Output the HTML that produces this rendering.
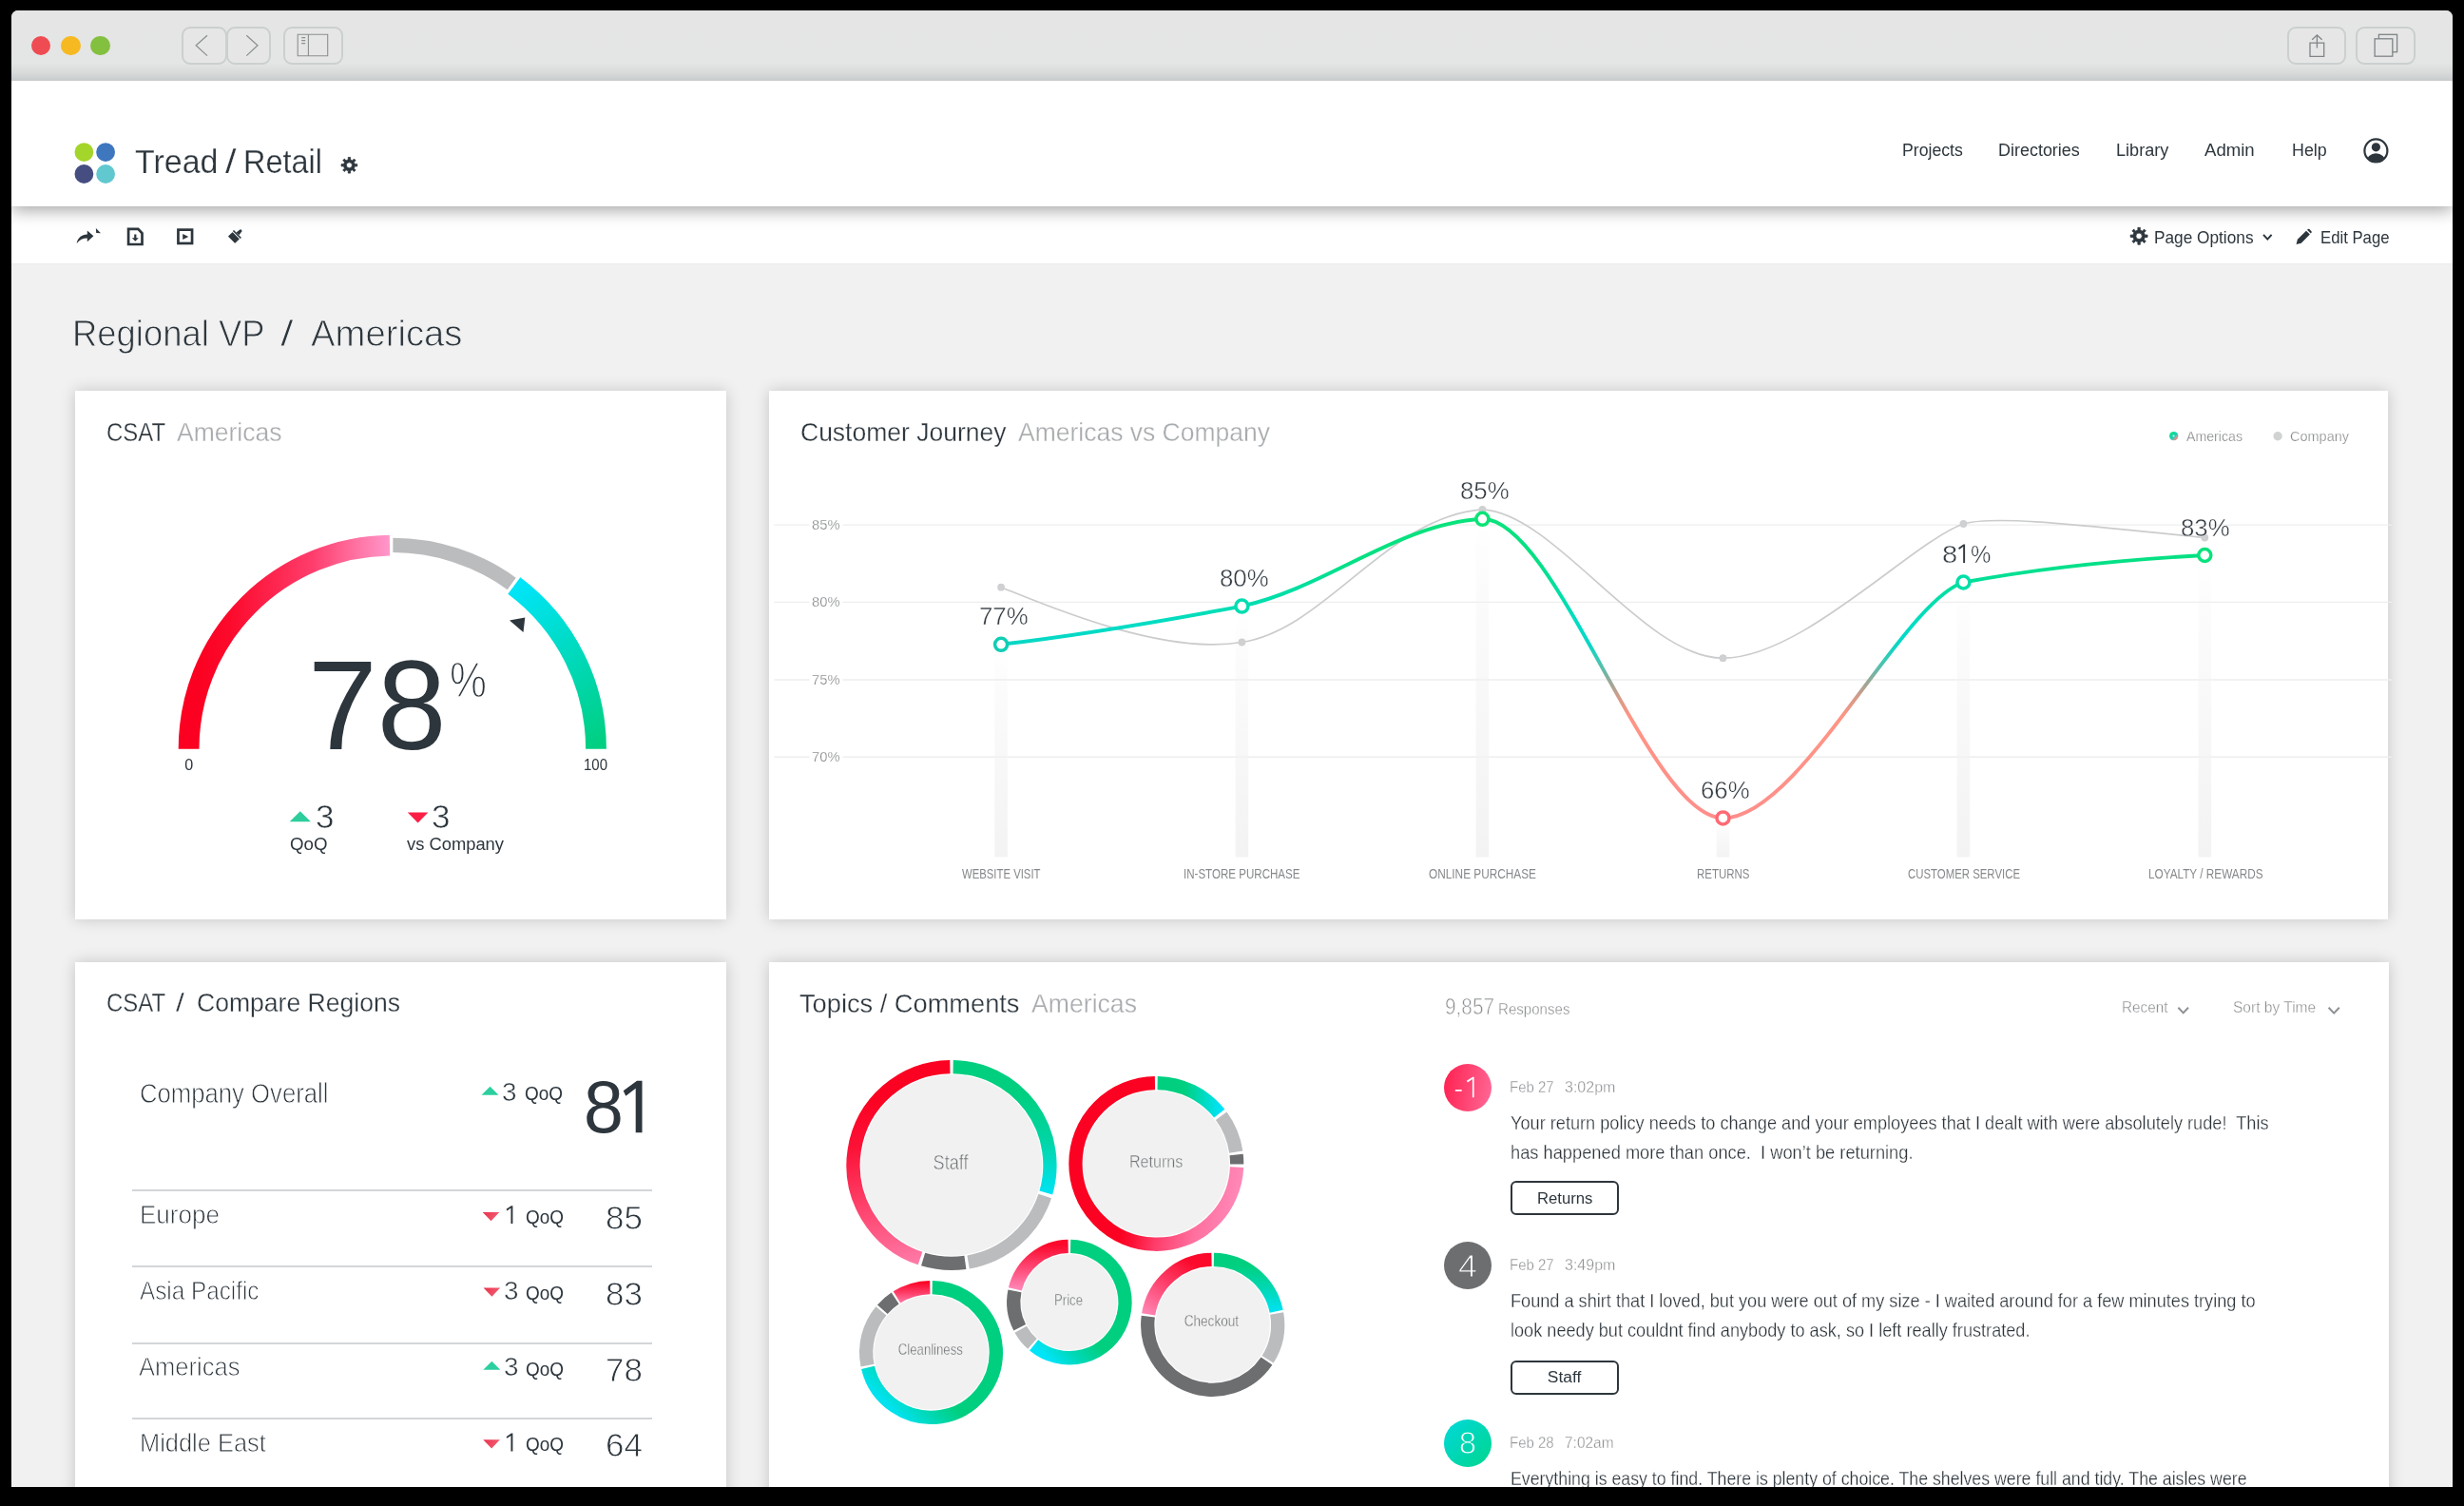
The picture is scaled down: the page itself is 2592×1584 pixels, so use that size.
<!DOCTYPE html>
<html lang="en"><head><meta charset="utf-8">
<title>Tread / Retail - Regional VP / Americas</title>
<style>
*{box-sizing:border-box;margin:0;padding:0}
html,body{width:2592px;height:1584px;overflow:hidden;background:#000}
body{position:relative;font-family:"Liberation Sans",sans-serif;color:#2d363d}
.win{position:absolute;left:12px;top:11px;width:2568px;height:1553px;background:#f1f1f1;border-radius:7px 7px 0 0;overflow:hidden}
.titlebar{position:absolute;left:0;top:0;width:100%;height:74px;z-index:4;background:linear-gradient(#e5e5e5 0,#e4e5e5 74%,#d9dbdb 88%,#c8cbcc 100%)}
.tl{position:absolute;top:26.5px;width:20.5px;height:20.5px;border-radius:50%}
.mbtn{position:absolute;top:17px;height:40px;border:2px solid #cbcfcf;border-radius:9px;background:#e6e6e6}
.header{position:absolute;left:0;top:74px;width:100%;height:131.5px;background:#fff;box-shadow:0 4px 17px rgba(0,0,0,.36);z-index:3}
.toolbar{position:absolute;left:0;top:206px;width:100%;height:61px;background:#fff;z-index:2;border-bottom:1px solid #ececec}
.card{position:absolute;background:#fff;box-shadow:0 0 15px rgba(0,0,0,.185)}
.t{position:absolute;white-space:pre;line-height:1;display:block}
#texts{will-change:transform;position:absolute;left:0;top:0;width:2592px;height:1564px;overflow:hidden;z-index:10}
svg.ov{position:absolute;left:0;top:0;z-index:9}
.hr{position:absolute;height:2px;background:#d3d6d8;left:139px;width:547px}
.tag{position:absolute;border:2px solid #2d363d;border-radius:6px;background:#fff}
.badge{position:absolute;border-radius:50%;width:50px;height:50px}

</style></head><body>
<div class="win">
<div class="titlebar">
<div class="tl" style="left:20.95px;background:#ee4c52"></div>
<div class="tl" style="left:52.05px;background:#f6b921"></div>
<div class="tl" style="left:83.25px;background:#84c040"></div>
<div class="mbtn" style="left:178.9px;width:47.7px"></div>
<div class="mbtn" style="left:225.8px;width:47.7px"></div>
<div class="mbtn" style="left:285.5px;width:63.1px"></div>
<div class="mbtn" style="left:2393.8px;width:62.7px"></div>
<div class="mbtn" style="left:2466.2px;width:62.7px"></div>
</div>
<div class="header"></div>
<div class="toolbar"></div>
<div class="card" style="left:67px;top:400px;width:685px;height:556px"></div>
<div class="card" style="left:797px;top:400px;width:1703px;height:556px"></div>
<div class="card" style="left:67px;top:1001px;width:685px;height:588px"></div>
<div class="card" style="left:797px;top:1001px;width:1703.5px;height:588px"></div>
<div class="hr" style="left:127px;top:1240.2px"></div>
<div class="hr" style="left:127px;top:1320.2px"></div>
<div class="hr" style="left:127px;top:1401.0px"></div>
<div class="hr" style="left:127px;top:1480.3px"></div>
<div class="tag" style="left:1576.6px;top:1230.9px;width:114.2px;height:36.2px"></div>
<div class="tag" style="left:1576.6px;top:1419.8px;width:114.2px;height:36.2px"></div>
<div class="badge" style="left:1506.7px;top:1107.9px;background:linear-gradient(100deg,#ff1f4e,#ff6a98)"></div>
<div class="badge" style="left:1506.7px;top:1295.1px;background:#6d6e70"></div>
<div class="badge" style="left:1506.7px;top:1481.9px;background:linear-gradient(135deg,#00d8dc,#00d68c)"></div>
</div>
<svg class="ov" width="2592" height="1584" viewBox="0 0 2592 1584"><defs><linearGradient id="g1" gradientUnits="userSpaceOnUse" x1="205.0" y1="0.0" x2="411.0" y2="0.0"><stop offset="0" stop-color="#fb0020"/><stop offset="0.18" stop-color="#fc0a2c"/><stop offset="0.6" stop-color="#ff3d6c"/><stop offset="0.85" stop-color="#ff78a8"/><stop offset="1" stop-color="#ff98cc"/></linearGradient><linearGradient id="g2" gradientUnits="userSpaceOnUse" x1="537.0" y1="616.0" x2="640.0" y2="775.0"><stop offset="0" stop-color="#00e5fb"/><stop offset="0.45" stop-color="#00dbc4"/><stop offset="1" stop-color="#00cf82"/></linearGradient><linearGradient id="g3" gradientUnits="userSpaceOnUse" x1="0.0" y1="1150.5" x2="0.0" y2="1257.5"><stop offset="0" stop-color="#00cf80"/><stop offset="0.45" stop-color="#00d5a4"/><stop offset="1" stop-color="#00e3f6"/></linearGradient><linearGradient id="g4" gradientUnits="userSpaceOnUse" x1="961.0" y1="1333.5" x2="921.0" y2="1155.5"><stop offset="0" stop-color="#ff7dab"/><stop offset="0.35" stop-color="#fe4a74"/><stop offset="0.75" stop-color="#fc1237"/><stop offset="1" stop-color="#fb0222"/></linearGradient><linearGradient id="g5" gradientUnits="userSpaceOnUse" x1="1246.3" y1="0.0" x2="1286.3" y2="0.0"><stop offset="0" stop-color="#00cf80"/><stop offset="0.5" stop-color="#00dbc0"/><stop offset="1" stop-color="#00e4ff"/></linearGradient><linearGradient id="g6" gradientUnits="userSpaceOnUse" x1="1304.3" y1="1263.9" x2="1158.3" y2="1233.9"><stop offset="0" stop-color="#ff8aba"/><stop offset="0.27" stop-color="#ff709e"/><stop offset="0.52" stop-color="#fe3e6c"/><stop offset="0.68" stop-color="#fc1236"/><stop offset="0.78" stop-color="#fb0222"/></linearGradient><linearGradient id="g7" gradientUnits="userSpaceOnUse" x1="1116.9" y1="1377.6" x2="1083.9" y2="1410.6"><stop offset="0" stop-color="#00cf80"/><stop offset="0.5" stop-color="#00d8b4"/><stop offset="1" stop-color="#00e4f8"/></linearGradient><linearGradient id="g8" gradientUnits="userSpaceOnUse" x1="0.0" y1="1355.6" x2="0.0" y2="1309.6"><stop offset="0" stop-color="#ff86b6"/><stop offset="0.5" stop-color="#fe4672"/><stop offset="1" stop-color="#fb0a2c"/></linearGradient><linearGradient id="g9" gradientUnits="userSpaceOnUse" x1="962.5" y1="1439.5" x2="929.5" y2="1472.5"><stop offset="0" stop-color="#00cf80"/><stop offset="0.5" stop-color="#00d8b4"/><stop offset="1" stop-color="#00e2ee"/></linearGradient><linearGradient id="g10" gradientUnits="userSpaceOnUse" x1="0.0" y1="1368.5" x2="0.0" y2="1348.5"><stop offset="0" stop-color="#ff6e9c"/><stop offset="0.6" stop-color="#fd2c54"/><stop offset="1" stop-color="#fb0424"/></linearGradient><linearGradient id="g11" gradientUnits="userSpaceOnUse" x1="0.0" y1="1331.3" x2="0.0" y2="1379.3"><stop offset="0" stop-color="#00cf80"/><stop offset="0.5" stop-color="#00d8b4"/><stop offset="1" stop-color="#00e2f2"/></linearGradient><linearGradient id="g12" gradientUnits="userSpaceOnUse" x1="1205.7" y1="1385.3" x2="1245.7" y2="1323.3"><stop offset="0" stop-color="#ff8ab8"/><stop offset="0.5" stop-color="#fe4672"/><stop offset="1" stop-color="#fb0a2c"/></linearGradient><linearGradient id="g13" gradientUnits="userSpaceOnUse" x1="0" y1="683.8" x2="0" y2="901.5"><stop offset="0" stop-color="#ededed" stop-opacity="0"/><stop offset="0.35" stop-color="#f3f3f3" stop-opacity="0.45"/><stop offset="1" stop-color="#f3f3f3" stop-opacity="1"/></linearGradient><linearGradient id="g14" gradientUnits="userSpaceOnUse" x1="0" y1="643.6" x2="0" y2="901.5"><stop offset="0" stop-color="#ededed" stop-opacity="0"/><stop offset="0.35" stop-color="#f3f3f3" stop-opacity="0.45"/><stop offset="1" stop-color="#f3f3f3" stop-opacity="1"/></linearGradient><linearGradient id="g15" gradientUnits="userSpaceOnUse" x1="0" y1="551.8" x2="0" y2="901.5"><stop offset="0" stop-color="#ededed" stop-opacity="0"/><stop offset="0.35" stop-color="#f3f3f3" stop-opacity="0.45"/><stop offset="1" stop-color="#f3f3f3" stop-opacity="1"/></linearGradient><linearGradient id="g16" gradientUnits="userSpaceOnUse" x1="0" y1="866.4" x2="0" y2="901.5"><stop offset="0" stop-color="#ededed" stop-opacity="0"/><stop offset="0.35" stop-color="#f3f3f3" stop-opacity="0.45"/><stop offset="1" stop-color="#f3f3f3" stop-opacity="1"/></linearGradient><linearGradient id="g17" gradientUnits="userSpaceOnUse" x1="0" y1="618.5" x2="0" y2="901.5"><stop offset="0" stop-color="#ededed" stop-opacity="0"/><stop offset="0.35" stop-color="#f3f3f3" stop-opacity="0.45"/><stop offset="1" stop-color="#f3f3f3" stop-opacity="1"/></linearGradient><linearGradient id="g18" gradientUnits="userSpaceOnUse" x1="0" y1="590.0" x2="0" y2="901.5"><stop offset="0" stop-color="#ededed" stop-opacity="0"/><stop offset="0.35" stop-color="#f3f3f3" stop-opacity="0.45"/><stop offset="1" stop-color="#f3f3f3" stop-opacity="1"/></linearGradient><linearGradient id="g19" gradientUnits="userSpaceOnUse" x1="0.0" y1="540.0" x2="0.0" y2="870.0"><stop offset="0" stop-color="#0be37a"/><stop offset="0.15" stop-color="#05e084"/><stop offset="0.27" stop-color="#00deaa"/><stop offset="0.36" stop-color="#00dcc6"/><stop offset="0.42" stop-color="#0ad6c4"/><stop offset="0.47" stop-color="#3cc8b4"/><stop offset="0.535" stop-color="#98a898"/><stop offset="0.59" stop-color="#d89a88"/><stop offset="0.65" stop-color="#ff9585"/><stop offset="1" stop-color="#ff8d8b"/></linearGradient><linearGradient id="g20" gradientUnits="userSpaceOnUse" x1="2283.4" y1="455.3" x2="2290.0" y2="461.9"><stop offset="0" stop-color="#08e283"/><stop offset="0.55" stop-color="#16cfb6"/><stop offset="0.8" stop-color="#b0a59a"/><stop offset="1" stop-color="#ff7d80"/></linearGradient><linearGradient id="g21" gradientUnits="userSpaceOnUse" x1="507.7" y1="1275.0" x2="525.3" y2="1284.2"><stop offset="0" stop-color="#e92f4b"/><stop offset="1" stop-color="#f4667a"/></linearGradient><linearGradient id="g22" gradientUnits="userSpaceOnUse" x1="508.6" y1="1354.6" x2="526.2" y2="1363.8"><stop offset="0" stop-color="#e92f4b"/><stop offset="1" stop-color="#f4667a"/></linearGradient><linearGradient id="g23" gradientUnits="userSpaceOnUse" x1="508.3" y1="1514.2" x2="525.9" y2="1523.4"><stop offset="0" stop-color="#e92f4b"/><stop offset="1" stop-color="#f4667a"/></linearGradient></defs><path d="M198.60,787.80A214.20,214.20 0 0 1 410.00,573.62" fill="none" stroke="url(#g1)" stroke-width="21.8"/>
<path d="M413.36,573.40A214.40,214.40 0 0 1 538.21,613.91" fill="none" stroke="#bbbcbe" stroke-width="15.4"/>
<path d="M540.81,616.06A214.20,214.20 0 0 1 627.00,787.80" fill="none" stroke="url(#g2)" stroke-width="21.8"/>
<polygon points="536,652.6 552.3,649.6 550.5,665" fill="#2d363d"/>
<polygon points="304.7,864.2 315.8,853.3 326.9,864.2" fill="#2ecd9c"/>
<polygon points="428.8,854.4 450.4,854.4 439.6,865.6" fill="#fb1f45"/>
<circle cx="1001.0" cy="1225.5" r="95.20" fill="#f1f1f1"/>
<path d="M1002.62,1122.06A103.45,103.45 0 0 1 1100.29,1254.53" fill="none" stroke="url(#g3)" stroke-width="14.3"/>
<path d="M1099.22,1257.98A103.45,103.45 0 0 1 1018.61,1327.44" fill="none" stroke="#bbbcbe" stroke-width="14.3"/>
<path d="M1015.40,1327.94A103.45,103.45 0 0 1 971.10,1324.53" fill="none" stroke="#6d6e70" stroke-width="14.3"/>
<path d="M968.00,1323.55A103.45,103.45 0 0 1 999.38,1122.06" fill="none" stroke="url(#g4)" stroke-width="14.3"/>
<circle cx="1216.3" cy="1223.9" r="76.60" fill="#f1f1f1"/>
<path d="M1217.63,1139.06A84.85,84.85 0 0 1 1282.70,1171.08" fill="none" stroke="url(#g5)" stroke-width="14.3"/>
<path d="M1284.68,1173.67A84.85,84.85 0 0 1 1300.26,1211.65" fill="none" stroke="#bbbcbe" stroke-width="14.3"/>
<path d="M1300.62,1214.44A84.85,84.85 0 0 1 1301.15,1224.49" fill="none" stroke="#6d6e70" stroke-width="14.3"/>
<path d="M1301.07,1227.60A84.85,84.85 0 1 1 1214.97,1139.06" fill="none" stroke="url(#g6)" stroke-width="14.3"/>
<circle cx="1124.9" cy="1369.6" r="50.40" fill="#f1f1f1"/>
<path d="M1126.13,1310.96A58.65,58.65 0 1 1 1087.59,1414.86" fill="none" stroke="url(#g7)" stroke-width="14.3"/>
<path d="M1085.96,1413.46A58.65,58.65 0 0 1 1073.70,1398.21" fill="none" stroke="#bbbcbe" stroke-width="14.3"/>
<path d="M1072.69,1396.32A58.65,58.65 0 0 1 1067.43,1357.91" fill="none" stroke="#6d6e70" stroke-width="14.3"/>
<path d="M1067.89,1355.81A58.65,58.65 0 0 1 1123.67,1310.96" fill="none" stroke="url(#g8)" stroke-width="14.3"/>
<circle cx="979.5" cy="1422.5" r="60.10" fill="#f1f1f1"/>
<path d="M980.69,1354.16A68.35,68.35 0 1 1 913.01,1438.34" fill="none" stroke="url(#g9)" stroke-width="14.3"/>
<path d="M912.52,1436.13A68.35,68.35 0 0 1 926.91,1378.84" fill="none" stroke="#bbbcbe" stroke-width="14.3"/>
<path d="M928.31,1377.21A68.35,68.35 0 0 1 941.68,1365.57" fill="none" stroke="#6d6e70" stroke-width="14.3"/>
<path d="M943.48,1364.41A68.35,68.35 0 0 1 978.31,1354.16" fill="none" stroke="url(#g10)" stroke-width="14.3"/>
<circle cx="1275.7" cy="1393.3" r="60.20" fill="#f1f1f1"/>
<path d="M1276.89,1324.86A68.45,68.45 0 0 1 1342.68,1379.19" fill="none" stroke="url(#g11)" stroke-width="14.3"/>
<path d="M1343.11,1381.41A68.45,68.45 0 0 1 1333.62,1429.78" fill="none" stroke="#bbbcbe" stroke-width="14.3"/>
<path d="M1332.45,1431.58A68.45,68.45 0 0 1 1207.80,1384.60" fill="none" stroke="#6d6e70" stroke-width="14.3"/>
<path d="M1208.13,1382.36A68.45,68.45 0 0 1 1274.51,1324.86" fill="none" stroke="url(#g12)" stroke-width="14.3"/>
<path d="M814.5,552.1H851.5M886.5,552.1H2516" stroke="#eeeeee" stroke-width="1.4" fill="none"/>
<path d="M814.5,633.4H851.5M886.5,633.4H2516" stroke="#eeeeee" stroke-width="1.4" fill="none"/>
<path d="M814.5,715.0H851.5M886.5,715.0H2516" stroke="#eeeeee" stroke-width="1.4" fill="none"/>
<path d="M814.5,796.3H851.5M886.5,796.3H2516" stroke="#eeeeee" stroke-width="1.4" fill="none"/>
<rect x="1046.3" y="683.8" width="13.6" height="217.7" fill="url(#g13)"/>
<rect x="1299.6" y="643.6" width="13.6" height="257.9" fill="url(#g14)"/>
<rect x="1552.6" y="551.8" width="13.6" height="349.7" fill="url(#g15)"/>
<rect x="1805.7" y="866.4" width="13.6" height="35.1" fill="url(#g16)"/>
<rect x="2058.6" y="618.5" width="13.6" height="283.0" fill="url(#g17)"/>
<rect x="2312.5" y="590.0" width="13.6" height="311.5" fill="url(#g18)"/>
<path d="M1053.1,617.7C1093.1,633.5 1221.5,690.2 1306.4,675.5C1394.2,662.5 1459.7,542.9 1559.4,535.9C1637.1,540.1 1728.7,692.2 1812.5,692.2C1895.7,692.2 2010.8,570.5 2065.4,551.0C2102.5,540.5 2216.2,555.7 2319.3,565.5" fill="none" stroke="#cbcccd" stroke-width="1.7"/>
<circle cx="1053.1" cy="617.7" r="3.9" fill="#cfd0d2"/>
<circle cx="1306.4" cy="675.5" r="3.9" fill="#cfd0d2"/>
<circle cx="1559.4" cy="535.9" r="3.9" fill="#cfd0d2"/>
<circle cx="1812.5" cy="692.2" r="3.9" fill="#cfd0d2"/>
<circle cx="2065.4" cy="551.0" r="3.9" fill="#cfd0d2"/>
<circle cx="2319.3" cy="565.5" r="3.9" fill="#cfd0d2"/>
<path d="M1053.1,677.8C1129.1,669.0 1222.8,653.3 1306.4,637.6C1395.5,618.1 1470.3,550.8 1559.4,545.8C1637.9,545.8 1734.0,860.4 1812.5,860.4C1893.4,860.4 1999.6,634.0 2065.4,612.5C2143.6,598.0 2236.8,588.4 2319.3,584.0" fill="none" stroke="url(#g19)" stroke-width="3.9" stroke-linecap="round"/>
<circle cx="1053.1" cy="677.8" r="6.5" fill="#fff" stroke="#0fceb4" stroke-width="3.5"/>
<circle cx="1306.4" cy="637.6" r="6.5" fill="#fff" stroke="#02ddb0" stroke-width="3.5"/>
<circle cx="1559.4" cy="545.8" r="6.5" fill="#fff" stroke="#0be377" stroke-width="3.5"/>
<circle cx="1812.5" cy="860.4" r="6.5" fill="#fff" stroke="#fe6a74" stroke-width="3.5"/>
<circle cx="2065.4" cy="612.5" r="6.5" fill="#fff" stroke="#02dea8" stroke-width="3.5"/>
<circle cx="2319.3" cy="584.0" r="6.5" fill="#fff" stroke="#08e27c" stroke-width="3.5"/>
<circle cx="2286.7" cy="458.6" r="4.7" fill="url(#g20)"/>
<circle cx="2286.5" cy="458.5" r="1.1" fill="#d5f1ee"/>
<circle cx="2396.1" cy="458.8" r="4.7" fill="#d1d2d4"/>
<polygon points="506.5,1151.7 515.5,1142.7 524.5,1151.7" fill="#2ccf9f"/>
<polygon points="507.7,1275.0 525.3,1275.0 516.5,1284.2" fill="url(#g21)"/>
<polygon points="508.6,1354.6 526.2,1354.6 517.4,1363.8" fill="url(#g22)"/>
<polygon points="508.3,1440.8 517.3,1431.8 526.3,1440.8" fill="#2ccf9f"/>
<polygon points="508.3,1514.2 525.9,1514.2 517.1,1523.4" fill="url(#g23)"/>
<circle cx="88.4" cy="160.1" r="9.9" fill="#a4d52a"/>
<circle cx="111.1" cy="160.1" r="9.9" fill="#3f77bf"/>
<circle cx="88.4" cy="183.0" r="9.9" fill="#464d80"/>
<circle cx="111.1" cy="183.0" r="9.9" fill="#61c8d0"/>
<path d="M365.26,168.32L366.37,168.01L366.22,165.48L368.58,165.48L368.43,168.01L369.76,168.41L370.76,168.98L372.44,167.08L374.12,168.76L372.22,170.44L372.88,171.66L373.19,172.77L375.72,172.62L375.72,174.98L373.19,174.83L372.79,176.16L372.22,177.16L374.12,178.84L372.44,180.52L370.76,178.62L369.54,179.28L368.43,179.59L368.58,182.12L366.22,182.12L366.37,179.59L365.04,179.19L364.04,178.62L362.36,180.52L360.68,178.84L362.58,177.16L361.92,175.94L361.61,174.83L359.08,174.98L359.08,172.62L361.61,172.77L362.01,171.44L362.58,170.44L360.68,168.76L362.36,167.08L364.04,168.98ZM364.38,173.80a3.02,3.02 0 1 0 6.05,0a3.02,3.02 0 1 0 -6.05,0Z" fill="#2d363d" fill-rule="evenodd" stroke="#2d363d" stroke-width="0.8" stroke-linejoin="round"/>
<path d="M2247.80,242.43L2248.99,242.10L2248.83,239.39L2251.37,239.39L2251.21,242.10L2252.62,242.53L2253.70,243.13L2255.50,241.10L2257.30,242.90L2255.27,244.70L2255.97,246.00L2256.30,247.19L2259.01,247.03L2259.01,249.57L2256.30,249.41L2255.87,250.82L2255.27,251.90L2257.30,253.70L2255.50,255.50L2253.70,253.47L2252.40,254.17L2251.21,254.50L2251.37,257.21L2248.83,257.21L2248.99,254.50L2247.58,254.07L2246.50,253.47L2244.70,255.50L2242.90,253.70L2244.93,251.90L2244.23,250.60L2243.90,249.41L2241.19,249.57L2241.19,247.03L2243.90,247.19L2244.33,245.78L2244.93,244.70L2242.90,242.90L2244.70,241.10L2246.50,243.13ZM2246.86,248.30a3.24,3.24 0 1 0 6.48,0a3.24,3.24 0 1 0 -6.48,0Z" fill="#2d363d" fill-rule="evenodd" stroke="#2d363d" stroke-width="0.8" stroke-linejoin="round"/>
<clipPath id="uc"><circle cx="2499.4" cy="158.4" r="11.4"/></clipPath>
<circle cx="2499.4" cy="158.4" r="12" fill="#fff" stroke="#2d363d" stroke-width="2.2"/>
<g clip-path="url(#uc)" fill="#2d363d"><circle cx="2499.4" cy="154.8" r="4.6"/><ellipse cx="2499.4" cy="170.6" rx="10.2" ry="9.4"/></g>
<path d="M2381.0,246.8l4.3,4.8l4.3,-4.8" fill="none" stroke="#2d363d" stroke-width="2"/>
<path d="M2291.4,1059.8l5.3,5.6l5.3,-5.6" fill="none" stroke="#8d9093" stroke-width="2"/>
<path d="M2449.6,1059.8l5.6,5.8l5.6,-5.8" fill="none" stroke="#8d9093" stroke-width="2"/>
<g transform="translate(2415.6,240.6)" fill="#2d363d"><path d="M0,16.3L1.3,11.2L10.4,2.1L14.3,6L5.2,15.1Z"/><path d="M11.4,1.1L12.3,0.3Q13,-0.2 13.8,0.5L15.9,2.6Q16.5,3.4 15.9,4.1L15.2,4.9Z"/></g>
<path d="M80.7,256.2C81.6,250.2 86,246.8 91.8,246.6L91.8,242.4L98.4,248.2L91.8,254.3L91.8,250.6C87,250.6 83.6,252.4 80.7,256.2Z" fill="#2d363d"/>
<polygon points="100.9,239.9 106,245.3 101.2,244.9" fill="#2d363d"/>
<path d="M135.1,240.8H145.3L149.5,245.2V257H135.1Z" fill="none" stroke="#2d363d" stroke-width="2.7" stroke-linejoin="miter"/>
<path d="M141.2,246.6h2.2v3.6h2.4l-3.5,3.6l-3.5,-3.6h2.4z" fill="#2d363d"/>
<rect x="187.45" y="241.65" width="14.6" height="14.3" fill="none" stroke="#2d363d" stroke-width="2.7"/>
<polygon points="192.2,245.9 198.3,248.9 192.2,252" fill="#2d363d"/>
<g transform="translate(248.8,247.1) rotate(45) scale(1.07)" fill="#2d363d"><rect x="-4.8" y="0.75" width="9.6" height="6.2" rx="0.5"/><rect x="-5.3" y="-1.6" width="10.6" height="1.55"/><path d="M-1.9,-1.6L-1.2,-6.4Q0,-7.6 1.2,-6.4L1.9,-1.6Z"/></g>
<path d="M218,37.3L206.2,47.8L218,58.6" fill="none" stroke="#8b8f91" stroke-width="1.25"/>
<path d="M259.3,37.3L271,47.8L259.3,58.6" fill="none" stroke="#8b8f91" stroke-width="1.25"/>
<path d="M313.2,36.3H344.7V58.7H313.2ZM324.4,36.3V58.7M317.2,39.6h4M317.2,42.6h4M317.2,45.6h4" fill="none" stroke="#8b8f91" stroke-width="1.1"/>
<path d="M2430,45.2H2444.7V59.4H2430ZM2437.4,50.4V37M2432.2,41.8L2437.4,36.8L2442.6,41.8" fill="none" stroke="#7f8588" stroke-width="1.3"/>
<rect x="2502.4" y="36.3" width="19.2" height="18.4" fill="#e3e4e4" stroke="#7f8588" stroke-width="1.3"/>
<rect x="2498.1" y="40.8" width="18.7" height="18.4" fill="#e5e5e5" stroke="#7f8588" stroke-width="1.3"/>
<polygon points="675.50,1136.70 675.50,1191.20 668.70,1191.20 668.70,1144.80 658.31,1152.63 655.72,1147.22 670.06,1136.70" fill="#2d363d"/>
<polygon points="539.40,1268.20 539.40,1287.10 537.45,1287.10 537.45,1270.62 533.48,1273.47 532.54,1271.85 537.84,1268.20" fill="#2d363d"/>
<polygon points="539.40,1507.50 539.40,1526.40 537.45,1526.40 537.45,1509.92 533.48,1512.77 532.54,1511.15 537.84,1507.50" fill="#2d363d"/>
<polygon points="2067.10,572.60 2067.10,592.10 2065.15,592.10 2065.15,575.04 2061.00,578.00 2060.02,576.36 2065.54,572.60" fill="#333b42"/>
<polygon points="1550.60,1132.70 1550.60,1154.20 1548.90,1154.20 1548.90,1134.96 1543.92,1138.38 1542.80,1136.85 1549.24,1132.70" fill="#fff"/>
<rect x="1530.8" y="1146.1" width="6.9" height="1.7" fill="#fff"/></svg>
<div id="texts">
<span class="t" style="font-size:35.57px;color:#2d363d;top:153.00px;-webkit-text-stroke:0.25px #fff;left:141.80px;transform-origin:0 0;transform:scaleX(0.9553);">Tread</span>
<span class="t" style="font-size:35.57px;color:#2d363d;top:153.00px;-webkit-text-stroke:0.25px #fff;left:237.00px;transform-origin:0 0;transform:scaleX(1.1728);">/</span>
<span class="t" style="font-size:35.57px;color:#2d363d;top:153.00px;-webkit-text-stroke:0.25px #fff;left:255.80px;transform-origin:0 0;transform:scaleX(0.9129);">Retail</span>
<span class="t" style="font-size:18.3px;color:#2d363d;top:149.00px;left:2001.10px;transform-origin:0 0;transform:scaleX(0.9660);">Projects</span>
<span class="t" style="font-size:18.3px;color:#2d363d;top:149.00px;left:2101.80px;transform-origin:0 0;transform:scaleX(0.9820);">Directories</span>
<span class="t" style="font-size:18.3px;color:#2d363d;top:149.00px;left:2226.10px;transform-origin:0 0;transform:scaleX(0.9912);">Library</span>
<span class="t" style="font-size:18.3px;color:#2d363d;top:149.00px;left:2318.60px;transform-origin:0 0;transform:scaleX(1.0168);">Admin</span>
<span class="t" style="font-size:18.3px;color:#2d363d;top:149.00px;left:2411.10px;transform-origin:0 0;transform:scaleX(0.9758);">Help</span>
<span class="t" style="font-size:17.99px;color:#2d363d;top:241.00px;left:2266.00px;transform-origin:0 0;transform:scaleX(0.9589);">Page Options</span>
<span class="t" style="font-size:17.99px;color:#2d363d;top:241.00px;left:2441.20px;transform-origin:0 0;transform:scaleX(0.9295);">Edit Page</span>
<span class="t" style="font-size:39.52px;color:#2d363d;top:331.00px;-webkit-text-stroke:0.9px #f1f1f1;left:76.20px;transform-origin:0 0;transform:scaleX(0.9218);">Regional VP</span>
<span class="t" style="font-size:39.52px;color:#2d363d;top:331.00px;-webkit-text-stroke:0.9px #f1f1f1;left:294.80px;transform-origin:0 0;transform:scaleX(1.2381);">/</span>
<span class="t" style="font-size:39.52px;color:#2d363d;top:331.00px;-webkit-text-stroke:0.9px #f1f1f1;left:327.00px;transform-origin:0 0;transform:scaleX(0.9685);">Americas</span>
<span class="t" style="font-size:28.5px;color:#2d363d;top:440.00px;-webkit-text-stroke:0.3px #fff;left:111.50px;transform-origin:0 0;transform:scaleX(0.8389);">CSAT</span>
<span class="t" style="font-size:28.5px;color:#a9acaf;top:440.00px;-webkit-text-stroke:0.3px #fff;left:185.50px;transform-origin:0 0;transform:scaleX(0.9303);">Americas</span>
<span class="t" style="font-size:132.91px;color:#2d363d;top:676.00px;left:323.60px;transform-origin:0 0;transform:scaleX(0.9841);">78</span>
<span class="t" style="font-size:52.0px;color:#2d363d;top:689.00px;-webkit-text-stroke:1.4px #fff;left:472.50px;transform-origin:0 0;transform:scaleX(0.8432);">%</span>
<span class="t" style="font-size:16.12px;color:#2d363d;top:796.00px;left:194.20px;transform-origin:0 0;">0</span>
<span class="t" style="font-size:16.12px;color:#2d363d;top:796.00px;left:614.20px;transform-origin:0 0;transform:scaleX(0.9297);">100</span>
<span class="t" style="font-size:35.36px;color:#2d363d;top:841.00px;-webkit-text-stroke:0.6px #fff;left:332.30px;transform-origin:0 0;transform:scaleX(0.9913);">3</span>
<span class="t" style="font-size:35.36px;color:#2d363d;top:841.00px;-webkit-text-stroke:0.6px #fff;left:454.30px;transform-origin:0 0;transform:scaleX(0.9913);">3</span>
<span class="t" style="font-size:19.14px;color:#2d363d;top:878.00px;left:305.30px;transform-origin:0 0;transform:scaleX(0.9779);">QoQ</span>
<span class="t" style="font-size:19.14px;color:#2d363d;top:878.00px;left:428.00px;transform-origin:0 0;transform:scaleX(0.9596);">vs Company</span>
<span class="t" style="font-size:28.5px;color:#2d363d;top:440.00px;-webkit-text-stroke:0.3px #fff;left:842.00px;transform-origin:0 0;transform:scaleX(0.9298);">Customer Journey</span>
<span class="t" style="font-size:28.5px;color:#a9acaf;top:440.00px;-webkit-text-stroke:0.3px #fff;left:1070.60px;transform-origin:0 0;transform:scaleX(0.9295);">Americas vs Company</span>
<span class="t" style="font-size:15.29px;color:#85888b;top:451.00px;-webkit-text-stroke:0.25px #fff;left:2300.30px;transform-origin:0 0;transform:scaleX(0.9264);">Americas</span>
<span class="t" style="font-size:15.29px;color:#85888b;top:451.00px;-webkit-text-stroke:0.25px #fff;left:2409.30px;transform-origin:0 0;transform:scaleX(0.9479);">Company</span>
<span class="t" style="font-size:15.5px;color:#85888b;top:544.00px;-webkit-text-stroke:0.25px #fff;left:854.00px;transform-origin:0 0;transform:scaleX(0.9507);">85%</span>
<span class="t" style="font-size:15.5px;color:#85888b;top:625.00px;-webkit-text-stroke:0.25px #fff;left:854.00px;transform-origin:0 0;transform:scaleX(0.9507);">80%</span>
<span class="t" style="font-size:15.5px;color:#85888b;top:707.00px;-webkit-text-stroke:0.25px #fff;left:854.00px;transform-origin:0 0;transform:scaleX(0.9507);">75%</span>
<span class="t" style="font-size:15.5px;color:#85888b;top:788.00px;-webkit-text-stroke:0.25px #fff;left:854.00px;transform-origin:0 0;transform:scaleX(0.9507);">70%</span>
<span class="t" style="font-size:14.87px;color:#86898c;top:912.00px;left:1011.75px;transform-origin:0 0;transform:scaleX(0.7627);">WEBSITE VISIT</span>
<span class="t" style="font-size:14.87px;color:#86898c;top:912.00px;left:1245.15px;transform-origin:0 0;transform:scaleX(0.7781);">IN-STORE PURCHASE</span>
<span class="t" style="font-size:14.87px;color:#86898c;top:912.00px;left:1502.90px;transform-origin:0 0;transform:scaleX(0.7956);">ONLINE PURCHASE</span>
<span class="t" style="font-size:14.87px;color:#86898c;top:912.00px;left:1784.75px;transform-origin:0 0;transform:scaleX(0.7727);">RETURNS</span>
<span class="t" style="font-size:14.87px;color:#86898c;top:912.00px;left:2006.50px;transform-origin:0 0;transform:scaleX(0.7669);">CUSTOMER SERVICE</span>
<span class="t" style="font-size:14.87px;color:#86898c;top:912.00px;left:2260.05px;transform-origin:0 0;transform:scaleX(0.7916);">LOYALTY / REWARDS</span>
<span class="t" style="font-size:25.79px;color:#333b42;top:636.00px;-webkit-text-stroke:0.45px #fff;left:1030.00px;transform-origin:0 0;transform:scaleX(1.0018);">77%</span>
<span class="t" style="font-size:25.79px;color:#333b42;top:596.00px;-webkit-text-stroke:0.45px #fff;left:1283.00px;transform-origin:0 0;transform:scaleX(1.0018);">80%</span>
<span class="t" style="font-size:25.79px;color:#333b42;top:504.00px;-webkit-text-stroke:0.45px #fff;left:1536.30px;transform-origin:0 0;transform:scaleX(1.0018);">85%</span>
<span class="t" style="font-size:25.79px;color:#333b42;top:819.00px;-webkit-text-stroke:0.45px #fff;left:1789.10px;transform-origin:0 0;transform:scaleX(1.0018);">66%</span>
<span class="t" style="font-size:25.79px;color:#333b42;top:543.00px;-webkit-text-stroke:0.45px #fff;left:2293.80px;transform-origin:0 0;transform:scaleX(1.0018);">83%</span>
<span class="t" style="font-size:25.79px;color:#333b42;top:571.00px;-webkit-text-stroke:0.45px #fff;left:2042.70px;transform-origin:0 0;transform:scaleX(1.1294);">8</span>
<span class="t" style="font-size:25.79px;color:#333b42;top:571.00px;-webkit-text-stroke:0.45px #fff;left:2072.60px;transform-origin:0 0;transform:scaleX(0.9330);">%</span>
<span class="t" style="font-size:28.5px;color:#2d363d;top:1040.00px;-webkit-text-stroke:0.3px #fff;left:111.50px;transform-origin:0 0;transform:scaleX(0.8389);">CSAT</span>
<span class="t" style="font-size:28.5px;color:#2d363d;top:1040.00px;-webkit-text-stroke:0.3px #fff;left:185.20px;transform-origin:0 0;transform:scaleX(1.1108);">/</span>
<span class="t" style="font-size:28.5px;color:#2d363d;top:1040.00px;-webkit-text-stroke:0.3px #fff;left:207.00px;transform-origin:0 0;transform:scaleX(0.9316);">Compare Regions</span>
<span class="t" style="font-size:29.33px;color:#2d363d;top:1135.00px;-webkit-text-stroke:0.8px #fff;left:146.80px;transform-origin:0 0;transform:scaleX(0.8761);">Company Overall</span>
<span class="t" style="font-size:28.08px;color:#2d363d;top:1135.00px;-webkit-text-stroke:0.5px #fff;left:528.40px;transform-origin:0 0;transform:scaleX(0.9920);">3</span>
<span class="t" style="font-size:19.76px;color:#2d363d;top:1141.00px;left:551.80px;transform-origin:0 0;transform:scaleX(0.9588);">QoQ</span>
<span class="t" style="font-size:78.52px;color:#2d363d;top:1125.00px;left:614.10px;transform-origin:0 0;transform:scaleX(0.9594);">8</span>
<span class="t" style="font-size:28.29px;color:#2d363d;top:1263.00px;-webkit-text-stroke:0.8px #fff;left:147.00px;transform-origin:0 0;transform:scaleX(0.9210);">Europe</span>
<span class="t" style="font-size:19.76px;color:#2d363d;top:1271.00px;left:553.20px;transform-origin:0 0;transform:scaleX(0.9588);">QoQ</span>
<span class="t" style="font-size:35.98px;color:#2d363d;top:1263.00px;-webkit-text-stroke:0.8px #fff;left:637.00px;transform-origin:0 0;transform:scaleX(0.9721);">85</span>
<span class="t" style="font-size:28.29px;color:#2d363d;top:1343.00px;-webkit-text-stroke:0.8px #fff;left:147.00px;transform-origin:0 0;transform:scaleX(0.8586);">Asia Pacific</span>
<span class="t" style="font-size:28.08px;color:#2d363d;top:1344.00px;-webkit-text-stroke:0.5px #fff;left:530.20px;transform-origin:0 0;transform:scaleX(0.9920);">3</span>
<span class="t" style="font-size:19.76px;color:#2d363d;top:1351.00px;left:553.20px;transform-origin:0 0;transform:scaleX(0.9588);">QoQ</span>
<span class="t" style="font-size:35.98px;color:#2d363d;top:1343.00px;-webkit-text-stroke:0.8px #fff;left:637.00px;transform-origin:0 0;transform:scaleX(0.9721);">83</span>
<span class="t" style="font-size:28.29px;color:#2d363d;top:1423.00px;-webkit-text-stroke:0.8px #fff;left:146.00px;transform-origin:0 0;transform:scaleX(0.9035);">Americas</span>
<span class="t" style="font-size:28.08px;color:#2d363d;top:1424.00px;-webkit-text-stroke:0.5px #fff;left:530.20px;transform-origin:0 0;transform:scaleX(0.9920);">3</span>
<span class="t" style="font-size:19.76px;color:#2d363d;top:1431.00px;left:553.20px;transform-origin:0 0;transform:scaleX(0.9588);">QoQ</span>
<span class="t" style="font-size:35.98px;color:#2d363d;top:1423.00px;-webkit-text-stroke:0.8px #fff;left:637.00px;transform-origin:0 0;transform:scaleX(0.9721);">78</span>
<span class="t" style="font-size:28.29px;color:#2d363d;top:1503.00px;-webkit-text-stroke:0.8px #fff;left:147.00px;transform-origin:0 0;transform:scaleX(0.8987);">Middle East</span>
<span class="t" style="font-size:19.76px;color:#2d363d;top:1510.00px;left:553.20px;transform-origin:0 0;transform:scaleX(0.9588);">QoQ</span>
<span class="t" style="font-size:35.98px;color:#2d363d;top:1502.00px;-webkit-text-stroke:0.8px #fff;left:637.00px;transform-origin:0 0;transform:scaleX(0.9721);">64</span>
<span class="t" style="font-size:28.5px;color:#2d363d;top:1041.00px;-webkit-text-stroke:0.3px #fff;left:841.30px;transform-origin:0 0;transform:scaleX(0.9553);">Topics / Comments</span>
<span class="t" style="font-size:28.5px;color:#a9acaf;top:1041.00px;-webkit-text-stroke:0.3px #fff;left:1085.00px;transform-origin:0 0;transform:scaleX(0.9345);">Americas</span>
<span class="t" style="font-size:22.67px;color:#707477;top:1211.00px;-webkit-text-stroke:0.5px #f1f1f1;left:977.21px;transform-origin:50% 0;transform:scaleX(0.8011);">Staff</span>
<span class="t" style="font-size:18.93px;color:#707477;top:1213.00px;-webkit-text-stroke:0.4px #f1f1f1;left:1183.47px;transform-origin:50% 0;transform:scaleX(0.8526);">Returns</span>
<span class="t" style="font-size:15.81px;color:#707477;top:1360.00px;-webkit-text-stroke:0.3px #f1f1f1;left:1106.20px;transform-origin:50% 0;transform:scaleX(0.8333);">Price</span>
<span class="t" style="font-size:15.81px;color:#707477;top:1412.00px;-webkit-text-stroke:0.3px #f1f1f1;left:938.16px;transform-origin:50% 0;transform:scaleX(0.8326);">Cleanliness</span>
<span class="t" style="font-size:15.81px;color:#707477;top:1382.00px;-webkit-text-stroke:0.3px #f1f1f1;left:1241.22px;transform-origin:50% 0;transform:scaleX(0.8614);">Checkout</span>
<span class="t" style="font-size:23.3px;color:#8d9093;top:1048.00px;-webkit-text-stroke:0.6px #fff;left:1519.60px;transform-origin:0 0;transform:scaleX(0.8917);">9,857</span>
<span class="t" style="font-size:16.85px;color:#8d9093;top:1054.00px;-webkit-text-stroke:0.3px #fff;left:1576.30px;transform-origin:0 0;transform:scaleX(0.8958);">Responses</span>
<span class="t" style="font-size:17.06px;color:#8d9093;top:1051.00px;-webkit-text-stroke:0.3px #fff;left:2231.50px;transform-origin:0 0;transform:scaleX(0.8979);">Recent</span>
<span class="t" style="font-size:17.06px;color:#8d9093;top:1051.00px;-webkit-text-stroke:0.3px #fff;left:2349.40px;transform-origin:0 0;transform:scaleX(0.9113);">Sort by Time</span>
<span class="t" style="font-size:16.64px;color:#8f9295;top:1136.00px;-webkit-text-stroke:0.3px #fff;left:1588.40px;transform-origin:0 0;transform:scaleX(0.9002);">Feb 27</span>
<span class="t" style="font-size:16.64px;color:#8f9295;top:1136.00px;-webkit-text-stroke:0.3px #fff;left:1646.40px;transform-origin:0 0;transform:scaleX(0.9630);">3:02pm</span>
<span class="t" style="font-size:19.76px;color:#2b3339;top:1172.00px;-webkit-text-stroke:0.28px #fff;left:1588.80px;transform-origin:0 0;transform:scaleX(0.9195);">Your return policy needs to change and your employees that I dealt with were absolutely rude!  This</span>
<span class="t" style="font-size:19.76px;color:#2b3339;top:1203.00px;-webkit-text-stroke:0.28px #fff;left:1588.80px;transform-origin:0 0;transform:scaleX(0.9250);">has happened more than once.  I won’t be returning.</span>
<span class="t" style="font-size:17.26px;color:#2d363d;top:1252.00px;left:1615.60px;transform-origin:50% 0;transform:scaleX(0.9684);">Returns</span>
<span class="t" style="font-size:16.64px;color:#8f9295;top:1323.00px;-webkit-text-stroke:0.3px #fff;left:1588.40px;transform-origin:0 0;transform:scaleX(0.9002);">Feb 27</span>
<span class="t" style="font-size:16.64px;color:#8f9295;top:1323.00px;-webkit-text-stroke:0.3px #fff;left:1646.40px;transform-origin:0 0;transform:scaleX(0.9630);">3:49pm</span>
<span class="t" style="font-size:19.76px;color:#2b3339;top:1359.00px;-webkit-text-stroke:0.28px #fff;left:1588.80px;transform-origin:0 0;transform:scaleX(0.9186);">Found a shirt that I loved, but you were out of my size - I waited around for a few minutes trying to</span>
<span class="t" style="font-size:19.76px;color:#2b3339;top:1390.00px;-webkit-text-stroke:0.28px #fff;left:1588.80px;transform-origin:0 0;transform:scaleX(0.9184);">look needy but couldnt find anybody to ask, so I left really frustrated.</span>
<span class="t" style="font-size:17.26px;color:#2d363d;top:1440.00px;left:1628.21px;transform-origin:50% 0;transform:scaleX(1.0093);">Staff</span>
<span class="t" style="font-size:16.64px;color:#8f9295;top:1510.00px;-webkit-text-stroke:0.3px #fff;left:1588.40px;transform-origin:0 0;transform:scaleX(0.9002);">Feb 28</span>
<span class="t" style="font-size:16.64px;color:#8f9295;top:1510.00px;-webkit-text-stroke:0.3px #fff;left:1646.40px;transform-origin:0 0;transform:scaleX(0.9287);">7:02am</span>
<span class="t" style="font-size:19.76px;color:#2b3339;top:1546.00px;-webkit-text-stroke:0.28px #fff;left:1588.80px;transform-origin:0 0;transform:scaleX(0.8980);">Everything is easy to find. There is plenty of choice. The shelves were full and tidy. The aisles were</span>
<span class="t" style="font-size:32.55px;color:#fff;top:1316.00px;-webkit-text-stroke:1.0px #6d6e70;left:1535.15px;transform-origin:50% 0;transform:scaleX(1.1044);">4</span>
<span class="t" style="font-size:32.55px;color:#fff;top:1502.00px;-webkit-text-stroke:1.0px #00d7b2;left:1535.25px;transform-origin:50% 0;transform:scaleX(1.0160);">8</span>
</div>
</body></html>
